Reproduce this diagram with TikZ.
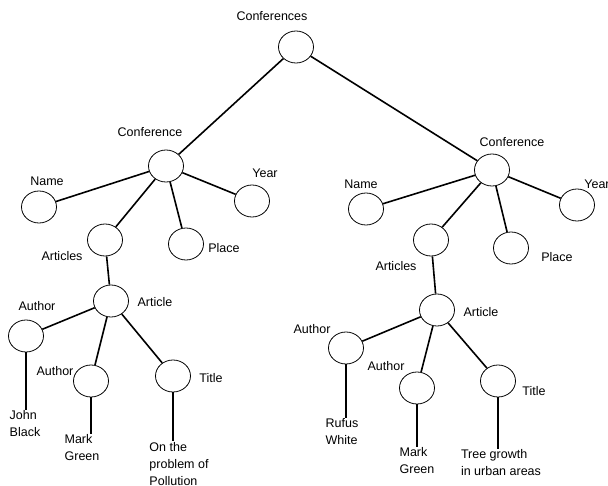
\documentclass[tikz,border=0pt]{standalone}
\usepackage{fontspec}
\setmainfont{Liberation Sans}
\usepackage{tikz}
\usetikzlibrary{shapes.geometric, positioning}
\tikzset{
    elem/.style={ellipse, draw=black, line width=0.8pt, minimum width=35pt, minimum height=32pt, inner sep=0pt},
    lbl/.style={font=\fontsize{12.5}{15}\selectfont, inner sep=1pt},
    leaf/.style={lbl, align=left, font=\fontsize{12.5}{17}\selectfont},
    link/.style={line width=1.6pt, color=black}
}
\begin{document}
\begin{tikzpicture}[x=1pt, y=-1pt]
    \useasboundingbox (0,0) rectangle (608,486);
    % Nodes
    \node (root) [elem] at (296,47) {};
    \node (confL) [elem] at (166,166) {};
    \node (confR) [elem] at (492,170) {};

    \node (nameL) [elem] at (39,207) {};
    \node (yearL) [elem] at (252,201) {};
    \node (artsL) [elem] at (105,240) {};
    \node (placeL) [elem] at (186,244) {};
    \node (artL) [elem] at (111,301) {};
    \node (auA) [elem] at (26,336) {};
    \node (auB) [elem] at (91,381) {};
    \node (titleL) [elem] at (173,376) {};

    \node (nameR) [elem] at (366,209) {};
    \node (yearR) [elem] at (577,205) {};
    \node (artsR) [elem] at (431,240) {};
    \node (placeR) [elem] at (511,248) {};
    \node (artR) [elem] at (437,310) {};
    \node (auC) [elem] at (346,348) {};
    \node (auD) [elem] at (417,388) {};
    \node (titleR) [elem] at (498,381) {};

    % Labels
    \node (tRoot) [lbl] at (272,16) {Conferences};
    \node (tConfL) [lbl] at (150,132) {Conference};
    \node (tConfR) [lbl] at (512,142) {Conference};
    \node (tNameL) [lbl] at (47,181) {Name};
    \node (tYearL) [lbl] at (265,173) {Year};
    \node (tArtsL) [lbl] at (62,256) {Articles};
    \node (tPlaceL) [lbl] at (224,248) {Place};
    \node (tArtL) [lbl] at (155,302) {Article};
    \node (tAuA) [lbl] at (37,306) {Author};
    \node (tAuB) [lbl] at (55,371) {Author};
    \node (tTitleL) [lbl] at (211,378) {Title};

    \node (tNameR) [lbl] at (361,184) {Name};
    \node (tYearR) [lbl] at (597,184) {Year};
    \node (tArtsR) [lbl] at (396,266) {Articles};
    \node (tPlaceR) [lbl] at (557,257) {Place};
    \node (tArtR) [lbl] at (481,312) {Article};
    \node (tAuC) [lbl] at (312,329) {Author};
    \node (tAuD) [lbl] at (386,366) {Author};
    \node (tTitleR) [lbl] at (534,391) {Title};

    % Values
    \node (vJohn) [leaf] at (25,424) {John\\Black};
    \node (vMarkL) [leaf] at (82,448) {Mark\\Green};
    \node (vPoll) [leaf] at (179,464) {On the\\problem of\\Pollution};
    \node (vRufus) [leaf] at (342,432) {Rufus\\White};
    \node (vMarkR) [leaf] at (417,461) {Mark\\Green};
    \node (vTree) [leaf] at (501,463) {Tree growth\\in urban areas};

    % Lines
    \draw [link] (root) -- (confL);
    \draw [link] (root) -- (confR);

    \draw [link] (confL) -- (nameL);
    \draw [link] (confL) -- (yearL);
    \draw [link] (confL) -- (artsL);
    \draw [link] (confL) -- (placeL);
    \draw [link] (artsL) -- (artL);
    \draw [link] (artL) -- (auA);
    \draw [link] (artL) -- (auB);
    \draw [link] (artL) -- (titleL);
    \draw [link] (auA) -- (auA |- vJohn.north);
    \draw [link] (auB) -- (auB |- vMarkL.north);
    \draw [link] (titleL) -- (titleL |- vPoll.north);

    \draw [link] (confR) -- (nameR);
    \draw [link] (confR) -- (yearR);
    \draw [link] (confR) -- (artsR);
    \draw [link] (confR) -- (placeR);
    \draw [link] (artsR) -- (artR);
    \draw [link] (artR) -- (auC);
    \draw [link] (artR) -- (auD);
    \draw [link] (artR) -- (titleR);
    \draw [link] (auC) -- (auC |- vRufus.north);
    \draw [link] (auD) -- (auD |- vMarkR.north);
    \draw [link] (titleR) -- (titleR |- vTree.north);
\end{tikzpicture}
\end{document}
